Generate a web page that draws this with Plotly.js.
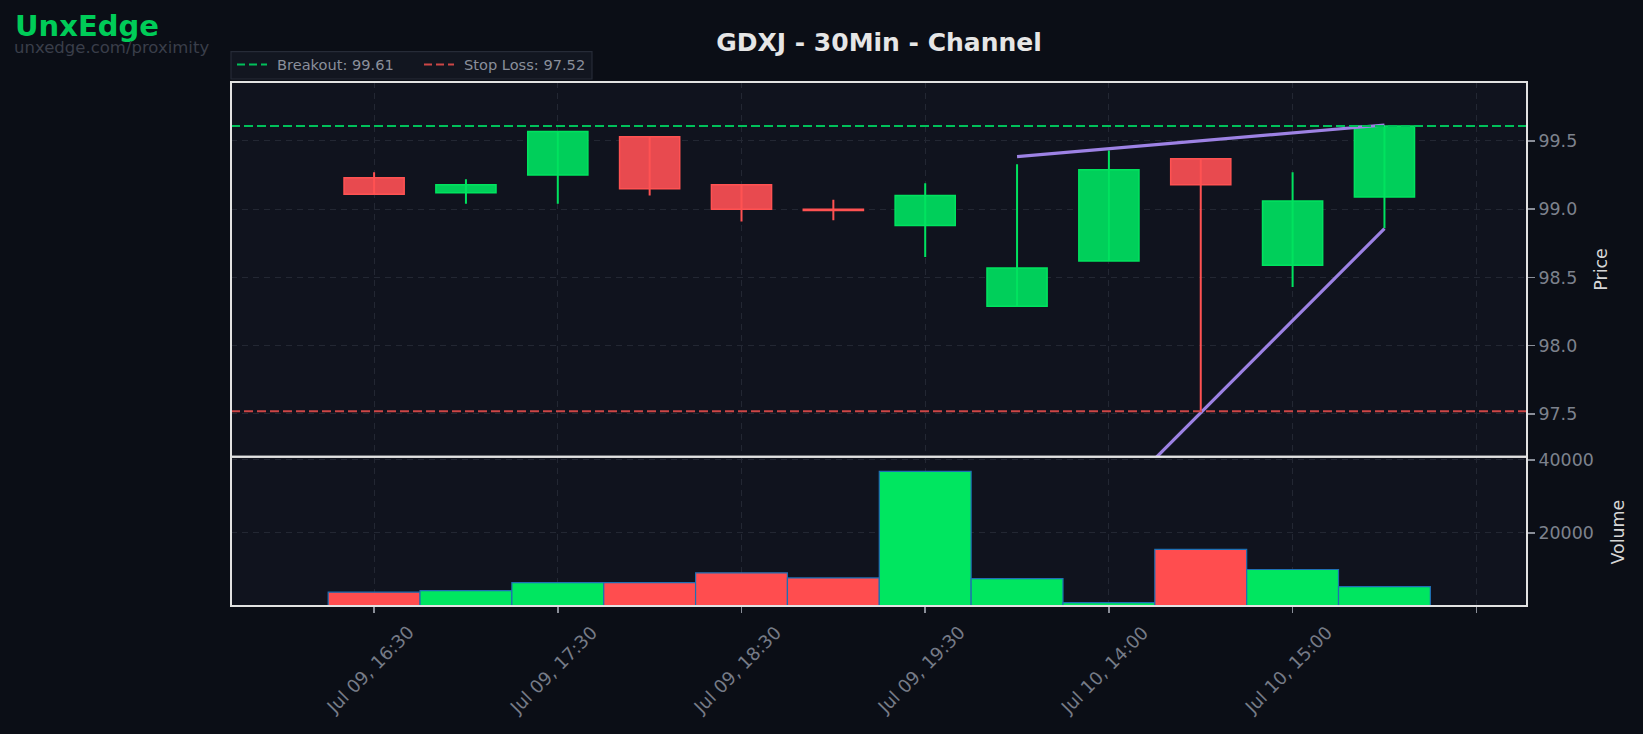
<!DOCTYPE html>
<html><head><meta charset="utf-8">
<script src="https://cdn.plot.ly/plotly-3.0.1.min.js"></script>
<style>html,body{margin:0;padding:0;background:#0b0e16;overflow:hidden;} #chart{width:1643px;height:734px;}</style>
</head><body><div id="chart"></div>
<script>
// ---- data ----
const times = ['Jul 09, 16:30','Jul 09, 17:00','Jul 09, 17:30','Jul 09, 18:00','Jul 09, 18:30','Jul 09, 19:00','Jul 09, 19:30','Jul 10, 13:30','Jul 10, 14:00','Jul 10, 14:30','Jul 10, 15:00','Jul 10, 15:30'];
const openP  = [99.23, 99.12, 99.25, 99.53, 99.18, 99.00, 98.88, 98.29, 98.62, 99.37, 98.59, 99.09];
const highP  = [99.27, 99.22, 99.57, 99.53, 99.18, 99.07, 99.19, 99.33, 99.43, 99.37, 99.27, 99.61];
const lowP   = [99.11, 99.04, 99.04, 99.10, 98.91, 98.92, 98.65, 98.29, 98.62, 97.52, 98.43, 98.86];
const closeP = [99.11, 99.18, 99.57, 99.15, 99.00, 98.99, 99.10, 98.57, 99.29, 99.18, 99.06, 99.61];
const volume = [3800, 4200, 6400, 6400, 9100, 7700, 36900, 7500, 900, 15500, 10000, 5300];
const breakout = 99.61;
const stopLoss = 97.52;
const upperLineX = [7, 11];
const upperLineY = [99.385, 99.617];
const lowerLineX = [7, 11];
const lowerLineY = [96.16, 98.858];
const tickIdx = [0, 2, 4, 6, 8, 10, 12];
const tickLabels = ['Jul 09, 16:30','Jul 09, 17:30','Jul 09, 18:30','Jul 09, 19:30','Jul 10, 14:00','Jul 10, 15:00',''];
const priceTicks = [97.5, 98.0, 98.5, 99.0, 99.5];
const volTicks = [20000, 40000];

// ---- geometry helpers ----
const W = 1643, H = 734, ML = 231, MR = 116, MT = 82, MB = 128;
const PW = W - ML - MR, PH = H - MT - MB;
const px = x => (x - ML) / PW;
const py = y => (H - MB - y) / PH;
const split = py(456.7);

const FONT = 'DejaVu Sans';
const GREEN_FILL = '#00cf5a', GREEN_EDGE = '#00e35f';
const RED_FILL = '#e84a4f', RED_EDGE = '#ff5252';
const idx = times.map((t, i) => i);
const up = idx.map(i => closeP[i] >= openP[i]);

// wicks
function wicks(flag, color) {
  const x = [], y = [];
  idx.forEach(i => { if (up[i] === flag) { x.push(i, i, null); y.push(lowP[i], highP[i], null); } });
  return {type: 'scatter', mode: 'lines', x, y, xaxis: 'x', yaxis: 'y',
          line: {color, width: 2}, hoverinfo: 'skip', showlegend: false};
}

const bodies = {
  type: 'bar', x: idx, xaxis: 'x', yaxis: 'y',
  base: idx.map(i => Math.min(openP[i], closeP[i])),
  y: idx.map(i => Math.max(Math.abs(closeP[i] - openP[i]), 0.004)),
  width: 0.655,
  marker: {color: idx.map(i => up[i] ? GREEN_FILL : RED_FILL),
           line: {color: idx.map(i => up[i] ? GREEN_EDGE : RED_EDGE), width: 1.5}},
  hoverinfo: 'skip', showlegend: false
};

const vol = {
  type: 'bar', x: idx, y: volume, xaxis: 'x', yaxis: 'y2', width: 1.0,
  marker: {color: idx.map(i => up[i] ? '#00e660' : '#ff4d4f'),
           line: {color: '#1f6fb4', width: 1.2}},
  hoverinfo: 'skip', showlegend: false
};

const upper = {type: 'scatter', mode: 'lines', x: upperLineX, y: upperLineY, xaxis: 'x', yaxis: 'y',
  line: {color: '#9d82e4', width: 3.2}, hoverinfo: 'skip', showlegend: false};
const lower = {type: 'scatter', mode: 'lines', x: lowerLineX, y: lowerLineY, xaxis: 'x', yaxis: 'y',
  line: {color: '#9d82e4', width: 3.2}, hoverinfo: 'skip', showlegend: false};

const gridColor = '#232733';
const tickFont = {family: FONT, size: 17.4, color: '#7d828d'};
const xTickFont = {family: FONT, size: 18, color: '#767b87'};

const shapes = [
  // breakout & stop loss
  {type: 'line', xref: 'paper', yref: 'y', x0: 0, x1: 1, y0: breakout, y1: breakout,
   line: {color: '#00c05a', width: 2, dash: '9px,4px'}, layer: 'above'},
  {type: 'line', xref: 'paper', yref: 'y', x0: 0, x1: 1, y0: stopLoss, y1: stopLoss,
   line: {color: '#cc4646', width: 2, dash: '9px,4px'}, layer: 'above'},
  // frames
  {type: 'rect', xref: 'paper', yref: 'paper', x0: 0, x1: 1, y0: split, y1: 1,
   line: {color: '#e2e2e2', width: 2}, layer: 'above'},
  {type: 'rect', xref: 'paper', yref: 'paper', x0: 0, x1: 1, y0: 0, y1: split,
   line: {color: '#e2e2e2', width: 2}, layer: 'above'},
  // legend box
  {type: 'rect', xref: 'paper', yref: 'paper', x0: px(231), x1: px(592), y0: py(79), y1: py(51.7),
   fillcolor: '#121620', line: {color: '#262b37', width: 1.2}, layer: 'above'},
  {type: 'line', xref: 'paper', yref: 'paper', x0: px(237), x1: px(267), y0: py(64.5), y1: py(64.5),
   line: {color: '#00c05a', width: 2, dash: '8px,4px'}, layer: 'above'},
  {type: 'line', xref: 'paper', yref: 'paper', x0: px(424), x1: px(454), y0: py(64.5), y1: py(64.5),
   line: {color: '#cc4646', width: 2, dash: '8px,4px'}, layer: 'above'}
];

const annotations = [
  {xref: 'paper', yref: 'paper', x: px(13), y: py(25.8), xanchor: 'left', yanchor: 'middle',
   text: '<b>UnxEdge</b>', showarrow: false, font: {family: FONT, size: 29, color: '#00cc58'}},
  {xref: 'paper', yref: 'paper', x: px(12), y: py(47.6), xanchor: 'left', yanchor: 'middle',
   text: 'unxedge.com/proximity', showarrow: false, font: {family: FONT, size: 16.5, color: '#3a3e4a'}},
  {xref: 'paper', yref: 'paper', x: px(274.5), y: py(64), xanchor: 'left', yanchor: 'middle',
   text: 'Breakout: ' + breakout.toFixed(2), showarrow: false, font: {family: FONT, size: 14.6, color: '#8a8f9b'}},
  {xref: 'paper', yref: 'paper', x: px(462), y: py(64), xanchor: 'left', yanchor: 'middle',
   text: 'Stop Loss: ' + stopLoss.toFixed(2), showarrow: false, font: {family: FONT, size: 14.6, color: '#8a8f9b'}},
  {xref: 'paper', yref: 'paper', x: px(1600.7), y: py(270), xanchor: 'center', yanchor: 'middle', textangle: -90,
   text: 'Price', showarrow: false, font: {family: FONT, size: 17.4, color: '#d6d6d6'}},
  {xref: 'paper', yref: 'paper', x: px(1617.5), y: py(532), xanchor: 'center', yanchor: 'middle', textangle: -90,
   text: 'Volume', showarrow: false, font: {family: FONT, size: 17.4, color: '#d6d6d6'}}
];
tickIdx.forEach((v, k) => {
  if (tickLabels[k]) annotations.push({xref: 'x', yref: 'paper', x: v, y: py(619), xanchor: 'center', yanchor: 'top',
    xshift: -4, textangle: -45, text: tickLabels[k], showarrow: false, font: xTickFont});
});

const layout = {
  width: W, height: H,
  margin: {l: ML, r: MR, t: MT, b: MB, pad: 0},
  paper_bgcolor: '#0b0e16', plot_bgcolor: '#10131e',
  showlegend: false, barmode: 'overlay', hovermode: false,
  title: {text: '<b>GDXJ - 30Min - Channel</b>', x: 0.5, xref: 'paper', xanchor: 'center',
          y: 1 - 42 / H, yref: 'container', yanchor: 'middle',
          font: {family: FONT, size: 25, color: '#e6e6e6'}},
  xaxis: {domain: [0, 1], anchor: 'y2', range: [-1.558, 12.552], tickmode: 'array', tickvals: tickIdx,
          showticklabels: false, ticks: 'outside', ticklen: 6, tickwidth: 1.5, tickcolor: '#8a8e98',
          showgrid: true, gridcolor: gridColor, gridwidth: 1, griddash: '6px,5px', zeroline: false, showline: false},
  yaxis: {domain: [split, 1], anchor: 'x', side: 'right', range: [97.187, 99.932], tickmode: 'array',
          tickvals: priceTicks, ticktext: priceTicks.map(v => v.toFixed(1)), ticks: 'outside', ticklen: 7,
          tickwidth: 1.5, tickcolor: '#8a8e98', tickfont: tickFont, showgrid: true, gridcolor: gridColor,
          gridwidth: 1, griddash: '6px,5px', zeroline: false, showline: false},
  yaxis2: {domain: [0, split], anchor: 'x', side: 'right', range: [0, 40900], tickmode: 'array',
          tickvals: volTicks, ticktext: volTicks.map(v => String(v)), ticks: 'outside', ticklen: 7,
          tickwidth: 1.5, tickcolor: '#8a8e98', tickfont: tickFont, showgrid: true, gridcolor: gridColor,
          gridwidth: 1, griddash: '6px,5px', zeroline: false, showline: false},
  shapes, annotations
};

Plotly.newPlot('chart', [wicks(true, GREEN_EDGE), wicks(false, RED_EDGE), bodies, upper, lower, vol], layout,
  {displayModeBar: false, staticPlot: true});
</script></body></html>
